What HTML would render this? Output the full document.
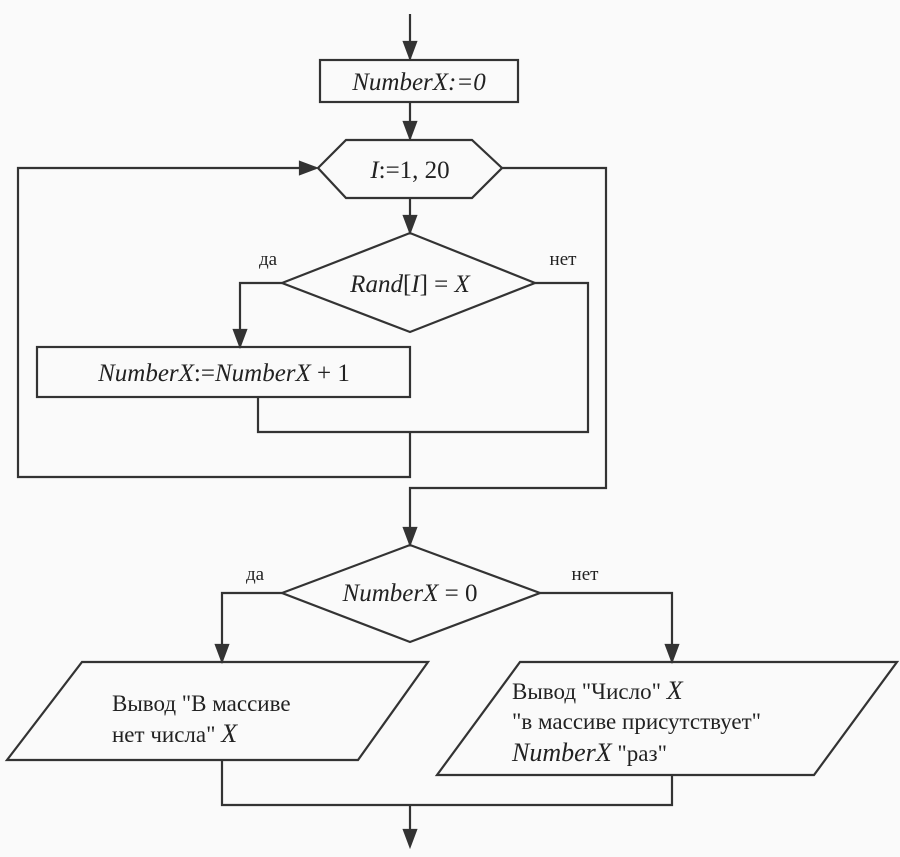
<!DOCTYPE html>
<html><head><meta charset="utf-8"><style>
html,body{margin:0;padding:0;background:#fafafa;}
svg text{font-family:"Liberation Serif","DejaVu Serif",serif;fill:#222;}
.i{font-style:italic;}
</style></head><body>
<svg width="900" height="852" viewBox="0 0 900 852" xmlns="http://www.w3.org/2000/svg">
<g stroke="#333" stroke-width="2.2" fill="none">
<path d="M410 14 V60"/><path d="M404 42 L416 42 L410 58 Z" fill="#333"/>
<rect x="320" y="60" width="198" height="42"/>
<path d="M410 102 V140"/><path d="M404 122 L416 122 L410 138 Z" fill="#333"/>
<polygon points="318,168 346,140 472,140 502,168 472,198 346,198"/>
<path d="M410 198 V233"/><path d="M404 216 L416 216 L410 232 Z" fill="#333"/>
<polygon points="282,283 410,233 535,283 410,332"/>
<path d="M282 283 H240 V347"/><path d="M234 330 L246 330 L240 346 Z" fill="#333"/>
<rect x="37" y="347" width="373" height="50"/>
<path d="M258 397 V432 H588 V283 H535"/>
<path d="M410 432 V477 H18 V168 H316"/><path d="M300 162 L316 168 L300 174 Z" fill="#333"/>
<path d="M502 168 H606 V488 H410 V545"/><path d="M404 528 L416 528 L410 544 Z" fill="#333"/>
<polygon points="282,593 410,545 540,593 410,642"/>
<path d="M282 593 H222 V662"/><path d="M216 645 L228 645 L222 661 Z" fill="#333"/>
<path d="M540 593 H672 V662"/><path d="M666 645 L678 645 L672 661 Z" fill="#333"/>
<polygon points="82,662 428,662 358,760 7,760"/>
<polygon points="520,662 897,662 814,775 437,775"/>
<path d="M222 760 V805 H672 V775"/>
<path d="M410 805 V845"/><path d="M404 830 L416 830 L410 846 Z" fill="#333"/>
</g>
<text x="419" y="90" font-size="25" text-anchor="middle" class="i">NumberX:=0</text>
<text x="410" y="178" font-size="25" text-anchor="middle"><tspan class="i">I</tspan>:=1, 20</text>
<text x="410" y="292" font-size="25" text-anchor="middle"><tspan class="i">Rand</tspan>[<tspan class="i">I</tspan>] = <tspan class="i">X</tspan></text>
<text x="224" y="381" font-size="25" text-anchor="middle"><tspan class="i">NumberX</tspan>:=<tspan class="i">NumberX</tspan> + 1</text>
<text x="410" y="601" font-size="25" text-anchor="middle"><tspan class="i">NumberX</tspan> = 0</text>
<text x="268" y="265" font-size="19" text-anchor="middle">да</text>
<text x="563" y="265" font-size="19" text-anchor="middle">нет</text>
<text x="255" y="580" font-size="19" text-anchor="middle">да</text>
<text x="585" y="580" font-size="19" text-anchor="middle">нет</text>
<text x="112" y="711" font-size="23">Вывод "В массиве</text>
<text x="112" y="742" font-size="23">нет числа" <tspan class="i" font-size="26">X</tspan></text>
<text x="512" y="699" font-size="23">Вывод "Число" <tspan class="i" font-size="26">X</tspan></text>
<text x="512" y="729" font-size="23">"в массиве присутствует"</text>
<text x="512" y="761" font-size="23"><tspan class="i" font-size="26">NumberX</tspan> "раз"</text>
</svg>
</body></html>
